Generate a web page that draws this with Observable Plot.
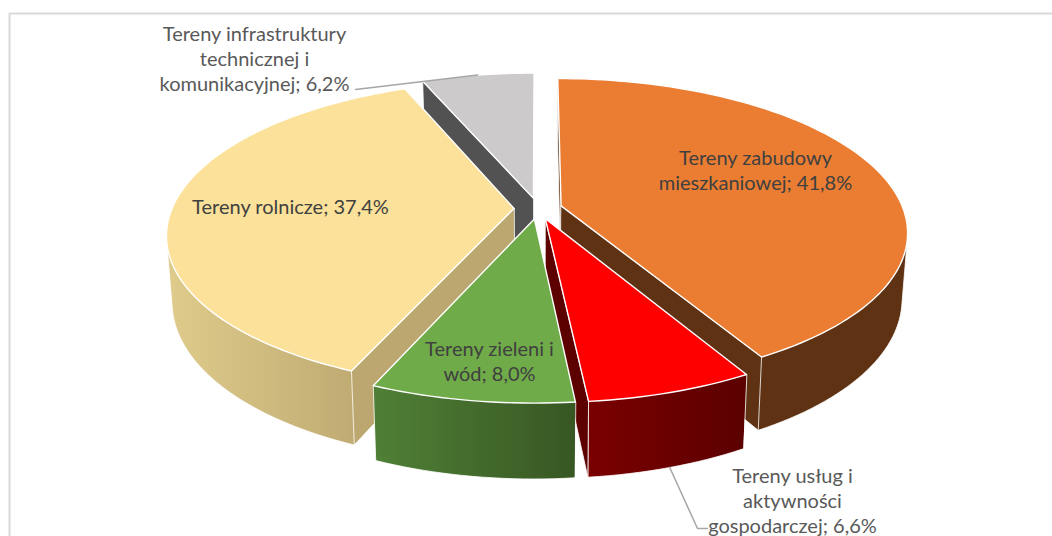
<!DOCTYPE html>
<html><head><meta charset="utf-8">
<script src="https://cdn.jsdelivr.net/npm/d3@7"></script>
<script src="https://cdn.jsdelivr.net/npm/@observablehq/plot@0.6"></script>
<style>html,body{margin:0;padding:0;background:#fff;overflow:hidden}</style>
</head><body><div id="chart"></div>
<script>
// ---- data ----
const categories = ["Tereny zabudowy mieszkaniowej","Tereny usług i aktywności gospodarczej","Tereny zieleni i wód","Tereny rolnicze","Tereny infrastruktury technicznej i komunikacyjnej"];
const shares = [41.8, 6.6, 8.0, 37.4, 6.2];
const topColors = ["#EA7D31","#FF0000","#6FAB48","#FBE199","#CCCACB"];
const wallStart = ["#5E3213","#7A0000","#4F7F36","#DECA8A","#555555"];
const wallEnd = ["#5E3213","#5C0000","#385723","#B7A36C","#555555"];
const cutColors = ["#5E3213","#5C0000","#385723","#BBA76F","#525252"];
const labelLines = [
  ["Tereny zabudowy","mieszkaniowej; 41,8%"],
  ["Tereny usług i","aktywności","gospodarczej; 6,6%"],
  ["Tereny zieleni i","wód; 8,0%"],
  ["Tereny rolnicze; 37,4%"],
  ["Tereny infrastruktury","technicznej i","komunikacyjnej; 6,2%"]
];
// ---- layout ----
const W = 1052, H = 536;
const pie = {cx:537.5, cy:208, f:342, b:149.4, a:0.1675, g:0.985, depth:64.7, explode:0.07};
const labelPos = [[755,158],[792,476],[489,349],[290,207],[254,34]];
const lineStep = 25;
const drawOrder = [4,0,3,1,2];
const visibleCuts = [["t0","t1"],["t1"],[],["t0"],["t0"]];
const visibleWall = [true,true,true,true,false];
const leaders = {4:{bottom:false,end:[[355,89]]},1:{bottom:true,end:[[697,528],[707,528]]}};

const rad = d => d*Math.PI/180;
function proj(X,Z,low){
  const d = 1+pie.a*Z;
  return low
    ? {x:pie.cx+pie.f*X*pie.g/d, y:pie.cy+(-pie.b*Z*pie.g+pie.depth)/d}
    : {x:pie.cx+pie.f*X/d, y:pie.cy-pie.b*Z/d};
}
const total = d3.sum(shares);
let acc = 0;
const slices = shares.map((s,i)=>{
  const t0 = acc/total*360; acc += s; const t1 = acc/total*360;
  const m = rad((t0+t1)/2);
  return {i,t0,t1,ox:pie.explode*Math.sin(m),oz:pie.explode*Math.cos(m),mid:(t0+t1)/2};
});
const rim = (s,t,low)=>proj(s.ox+Math.sin(rad(t)),s.oz+Math.cos(rad(t)),low);
const apex = (s,low)=>proj(s.ox,s.oz,low);
const arc = (s,low)=>{const n=Math.ceil((s.t1-s.t0)/1.5);return d3.range(n+1).map(k=>rim(s,s.t0+(s.t1-s.t0)*k/n,low));};
// silhouette of a slice's outer wall: the convex hull of its upper and lower rims
const wallHull = s=>d3.polygonHull([...arc(s,false),...arc(s,true)].map(p=>[p.x,p.y])).map(([x,y])=>({x,y}));

const poly = (pts,fill,stroke,sw)=>Plot.line(pts,{x:"x",y:"y",curve:"linear-closed",fill,stroke,strokeWidth:sw,strokeLinejoin:"round"});
const marks = [];

// wall gradients: one per slice, spanning the slice's horizontal extent
marks.push(()=>{
  const defs = d3.create("svg:defs");
  slices.forEach(s=>{
    const xs = arc(s,true).map(p=>p.x);
    const lg = defs.append("linearGradient").attr("id","wall"+s.i).attr("gradientUnits","userSpaceOnUse")
      .attr("x1",d3.min(xs)).attr("x2",d3.max(xs)).attr("y1",0).attr("y2",0);
    lg.append("stop").attr("offset",0).attr("stop-color",wallStart[s.i]);
    lg.append("stop").attr("offset",1).attr("stop-color",wallEnd[s.i]);
  });
  return defs.node();
});

// chart frame
marks.push(Plot.ruleY([13],{x1:9,x2:W,stroke:"#D9D9D9",strokeWidth:2}));
marks.push(Plot.ruleX([9],{y1:13,y2:H,stroke:"#D9D9D9",strokeWidth:2}));

for (const i of drawOrder){
  const s = slices[i];
  if (visibleWall[i]) marks.push(poly(wallHull(s),`url(#wall${i})`,"#fff",0.8));
  for (const key of visibleCuts[i]){
    const t = s[key];
    marks.push(poly([apex(s,false),rim(s,t,false),rim(s,t,true),apex(s,true)],cutColors[i],"#fff",0.8));
  }
  marks.push(poly([apex(s,false),...arc(s,false)],topColors[i],"#fff",1.4));
}

// leader lines
for (const [k,l] of Object.entries(leaders)){
  const s = slices[+k];
  const pts = [rim(s,s.mid,l.bottom),...l.end.map(([x,y])=>({x,y}))];
  marks.push(Plot.line(pts,{x:"x",y:"y",stroke:"#A6A6A6",strokeWidth:1.5}));
}

// labels
const labelRows = slices.flatMap(s=>labelLines[s.i].map((text,j)=>({
  text,x:labelPos[s.i][0],y:labelPos[s.i][1]+j*lineStep,
  fill:(s.i===4||s.i===1)?"#595959":"#404040"
})));
marks.push(Plot.text(labelRows,{x:"x",y:"y",text:"text",fill:"fill",fontFamily:"Lato",fontSize:20,textAnchor:"middle"}));

const chart = Plot.plot({
  width:W,height:H,margin:0,
  x:{domain:[0,W],range:[0,W],axis:null},
  y:{domain:[0,H],range:[0,H],axis:null},
  style:{background:"#fff"},
  marks
});
document.getElementById("chart").appendChild(chart);
</script></body></html>
